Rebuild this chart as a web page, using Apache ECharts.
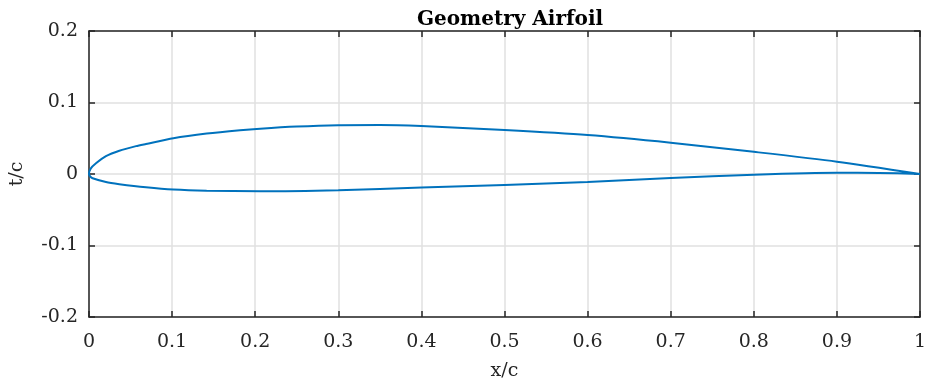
<!DOCTYPE html>
<html>
<head>
<meta charset="utf-8">
<script src="https://cdn.jsdelivr.net/npm/echarts@6/dist/echarts.min.js"></script>
<style>
  html, body { margin: 0; padding: 0; background: #fff; }
  #chart { width: 925px; height: 381px; }
</style>
</head>
<body>
<div id="chart"></div>
<script>
// upper surface, x/c and t/c
const xUpper = [0, 0.002, 0.0084, 0.0204, 0.0365, 0.0566, 0.0686, 0.1015, 0.1416, 0.1817, 0.206, 0.25, 0.3, 0.35, 0.4, 0.5, 0.6, 0.7, 0.8, 0.9, 1.0]
const tUpper = [0, 0.0075, 0.015, 0.025, 0.0326, 0.039, 0.042, 0.050, 0.0565, 0.0612, 0.0634, 0.0663, 0.0682, 0.0685, 0.067, 0.0615, 0.0545, 0.0438, 0.031, 0.0172, 0]
// lower surface
const xLower = [0, 0.0015, 0.0044, 0.0204, 0.0365, 0.0686, 0.1015, 0.1416, 0.206, 0.3, 0.4, 0.5, 0.6, 0.7, 0.8, 0.9, 0.95, 1.0]
const tLower = [0, -0.0035, -0.006, -0.0113, -0.0142, -0.0186, -0.0218, -0.0234, -0.0241, -0.0226, -0.019, -0.0154, -0.0112, -0.0056, -0.001, 0.0017, 0.0015, 0]

const xTicks = [0, 0.1, 0.2, 0.3, 0.4, 0.5, 0.6, 0.7, 0.8, 0.9, 1]
const yTicks = [-0.2, -0.1, 0, 0.1, 0.2]

const chart = echarts.init(document.getElementById('chart'))

const font = 'DejaVu Serif'
const ink = '#262626'

// trace the outline as one loop: trailing edge -> leading edge -> trailing edge
const loop = []
for (let i = xUpper.length - 1; i >= 0; i--) loop.push([xUpper[i], tUpper[i]])
for (let i = 1; i < xLower.length; i++) loop.push([xLower[i], tLower[i]])

const boxLine = { show: true, onZero: false, lineStyle: { color: ink, width: 1.5 } }
const boxTick = { show: true, inside: true, length: 6, lineStyle: { color: ink, width: 1.5 } }

const option = {
    animation: false,
    backgroundColor: '#fff',
    title: {
        text: 'Geometry Airfoil',
        left: 505,
        textAlign: 'center',
        top: 5,
        textStyle: { fontFamily: font, fontWeight: 'bold', fontSize: 20, color: '#000' }
    },
    grid: { left: 89, right: 5, top: 31, bottom: 64, outerBoundsMode: 'none', containLabel: false },
    xAxis: [{
        type: 'value',
        min: 0,
        max: 1,
        interval: 0.1,
        name: 'x/c',
        nameLocation: 'middle',
        nameGap: 45,
        nameTextStyle: { fontFamily: font, fontSize: 19, color: ink },
        axisLine: boxLine,
        axisTick: boxTick,
        axisLabel: {
            margin: 16,
            fontFamily: font, fontSize: 19, color: ink,
            formatter: v => xTicks.find(t => Math.abs(t - v) < 1e-9).toString()
        },
        splitLine: { show: true, lineStyle: { color: '#e0e0e0', width: 1.5 } }
    }, {
        type: 'value', min: 0, max: 1, interval: 0.1, position: 'top',
        axisLine: boxLine, axisTick: boxTick,
        axisLabel: { show: false }, splitLine: { show: false }
    }],
    yAxis: [{
        type: 'value',
        min: -0.2,
        max: 0.2,
        interval: 0.1,
        name: 't/c',
        nameLocation: 'middle',
        nameGap: 62,
        nameTextStyle: { fontFamily: font, fontSize: 19, color: ink },
        axisLine: boxLine,
        axisTick: boxTick,
        axisLabel: {
            margin: 11,
            fontFamily: font, fontSize: 19, color: ink,
            formatter: v => yTicks.find(t => Math.abs(t - v) < 1e-9).toString()
        },
        splitLine: { show: true, lineStyle: { color: '#e0e0e0', width: 1.5 } }
    }, {
        type: 'value', min: -0.2, max: 0.2, interval: 0.1, position: 'right',
        axisLine: boxLine, axisTick: boxTick,
        axisLabel: { show: false }, splitLine: { show: false }
    }],
    series: [{
        type: 'line',
        data: loop,
        showSymbol: false,
        smooth: 0.25,
        lineStyle: { color: '#0072BD', width: 2 }
    }]
}

chart.setOption(option)
</script>
</body>
</html>
